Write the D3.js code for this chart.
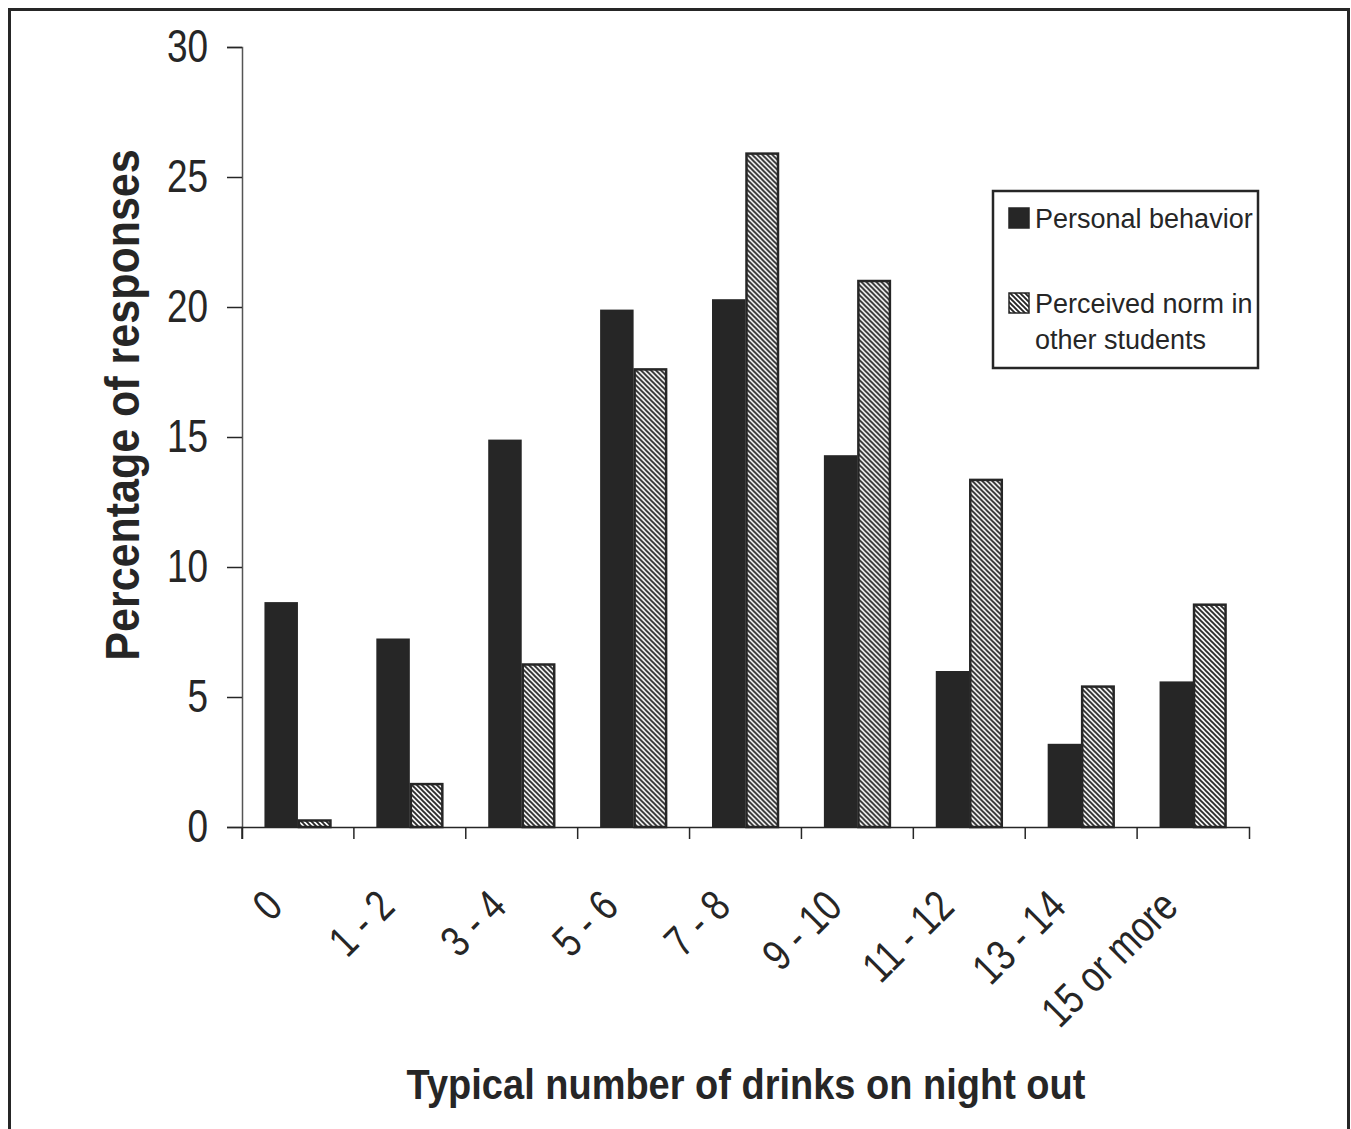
<!DOCTYPE html>
<html>
<head>
<meta charset="utf-8">
<script src="https://cdn.jsdelivr.net/npm/d3@7"></script>
<style>
  body { margin: 0; background: #fff; }
  svg { display: block; }
</style>
</head>
<body>
<div id="drinks-chart"></div>
<script>
// Typical number of drinks on a night out
const categories = ['0', '1 - 2', '3 - 4', '5 - 6', '7 - 8', '9 - 10', '11 - 12', '13 - 14', '15 or more'];
const seriesNames = ['Personal behavior', 'Perceived norm in other students'];
const personal = [8.65, 7.25, 14.9, 19.9, 20.3, 14.3, 6.0, 3.2, 5.6];
const perceived = [0.25, 1.65, 6.25, 17.6, 25.9, 21.0, 13.35, 5.4, 8.55];
const yTicks = [0, 5, 10, 15, 20, 25, 30];

function initDrinksChart() {
  const width = 1351;
  const height = 1129;
  const margin = { top: 47, right: 102, bottom: 302, left: 242 };
  const innerWidth = width - margin.left - margin.right;
  const innerHeight = height - margin.top - margin.bottom;
  const ink = '#262626';
  const plain = '"Liberation Sans", Arial, sans-serif';

  const svg = d3.select('#drinks-chart')
    .append('svg')
    .attr('width', width)
    .attr('height', height);

  // hatch pattern for the perceived norm bars
  const pat = svg.append('defs').append('pattern')
    .attr('id', 'hatch')
    .attr('patternUnits', 'userSpaceOnUse')
    .attr('width', 5)
    .attr('height', 5);
  pat.append('rect').attr('width', 5).attr('height', 5).attr('fill', '#fff');
  pat.append('path')
    .attr('d', 'M-1,-1 L6,6 M-1,4 L1,6 M4,-1 L6,1')
    .attr('stroke', ink)
    .attr('stroke-width', 1.9);

  // outer frame
  svg.append('rect')
    .attr('x', 9.5)
    .attr('y', 9.5)
    .attr('width', 1339)
    .attr('height', 1140)
    .attr('fill', 'none')
    .attr('stroke', ink)
    .attr('stroke-width', 3);

  const g = svg.append('g')
    .attr('transform', `translate(${margin.left},${margin.top})`);

  // Scales
  const x0 = d3.scaleBand()
    .domain(categories)
    .range([0, innerWidth])
    .padding(0);

  const x1 = d3.scaleBand()
    .domain(seriesNames)
    .range([0, x0.bandwidth()])
    .paddingInner(0)
    .paddingOuter(0.67);

  const y = d3.scaleLinear()
    .domain([0, 30])
    .range([innerHeight, 0]);

  // Bars
  const rows = categories.map((c, i) => ({ cat: c, values: [personal[i], perceived[i]] }));
  const groups = g.selectAll('.cat')
    .data(rows)
    .enter().append('g')
    .attr('class', 'cat')
    .attr('transform', d => `translate(${x0(d.cat)},0)`);

  groups.append('rect')
    .attr('x', x1(seriesNames[0]))
    .attr('y', d => y(d.values[0]))
    .attr('width', x1.bandwidth())
    .attr('height', d => y(0) - y(d.values[0]))
    .attr('fill', ink);

  groups.append('rect')
    .attr('x', x1(seriesNames[1]) + 1)
    .attr('y', d => y(d.values[1]))
    .attr('width', x1.bandwidth() - 2)
    .attr('height', d => y(0) - y(d.values[1]))
    .attr('fill', 'url(#hatch)')
    .attr('stroke', ink)
    .attr('stroke-width', 2.5);

  // Y axis
  const yAxis = g.append('g')
    .call(d3.axisLeft(y)
      .tickValues(yTicks)
      .tickSize(15)
    );
  yAxis.select('.domain').attr('stroke', '#555').attr('stroke-width', 1.5);
  yAxis.selectAll('.tick line').attr('stroke', ink).attr('stroke-width', 1.5);
  // condensed digits, right edge 34px left of the axis
  yAxis.selectAll('.tick text')
    .attr('x', 0)
    .attr('transform', 'translate(-34,0) scale(0.84,1.04)')
    .style('font-family', plain)
    .style('font-size', '44px')
    .attr('fill', ink);

  // X axis: ticks sit on the category boundaries
  const xAxis = g.append('g')
    .attr('transform', `translate(0,${innerHeight})`)
    .call(d3.axisBottom(x0)
      .tickSize(12)
      .tickSizeOuter(12)
    );
  xAxis.select('.domain').attr('stroke', ink).attr('stroke-width', 1.5);
  xAxis.selectAll('.tick line')
    .attr('x1', -x0.bandwidth() / 2)
    .attr('x2', -x0.bandwidth() / 2)
    .attr('stroke', ink)
    .attr('stroke-width', 1.5);
  xAxis.selectAll('.tick text')
    .attr('x', 0)
    .attr('y', 0)
    .attr('dy', 0)
    .attr('text-anchor', 'end')
    .attr('transform', 'translate(-13,82) rotate(-45) scale(0.84,1.04)')
    .style('font-family', plain)
    .style('font-size', '42px')
    .attr('fill', ink);

  // Axis titles
  svg.append('text')
    .attr('transform', 'translate(139,405) rotate(-90) scale(1,1.1)')
    .attr('text-anchor', 'middle')
    .style('font-family', plain)
    .style('font-weight', 'bold')
    .style('font-size', '43px')
    .attr('fill', ink)
    .text('Percentage of responses');

  svg.append('text')
    .attr('transform', 'translate(746,1099) scale(1,1.12)')
    .attr('text-anchor', 'middle')
    .style('font-family', plain)
    .style('font-weight', 'bold')
    .style('font-size', '38px')
    .attr('fill', ink)
    .text('Typical number of drinks on night out');

  // Legend
  const legend = svg.append('g')
    .attr('transform', 'translate(993,191)');
  legend.append('rect')
    .attr('width', 265)
    .attr('height', 177)
    .attr('fill', '#fff')
    .attr('stroke', ink)
    .attr('stroke-width', 2.5);

  const legendItems = [
    { lines: ['Personal behavior'], fill: ink, top: 17 },
    { lines: ['Perceived norm in', 'other students'], fill: 'url(#hatch)', top: 102 }
  ];
  legendItems.forEach(item => {
    legend.append('rect')
      .attr('x', 16)
      .attr('y', item.top)
      .attr('width', 20)
      .attr('height', 20)
      .attr('fill', item.fill)
      .attr('stroke', ink)
      .attr('stroke-width', 1.5);
    item.lines.forEach((t, j) => {
      legend.append('text')
        .attr('x', 42)
        .attr('y', item.top + 20 + j * 36)
        .style('font-family', plain)
        .style('font-size', '27px')
        .attr('fill', ink)
        .text(t);
    });
  });
}

initDrinksChart();
</script>
</body>
</html>
